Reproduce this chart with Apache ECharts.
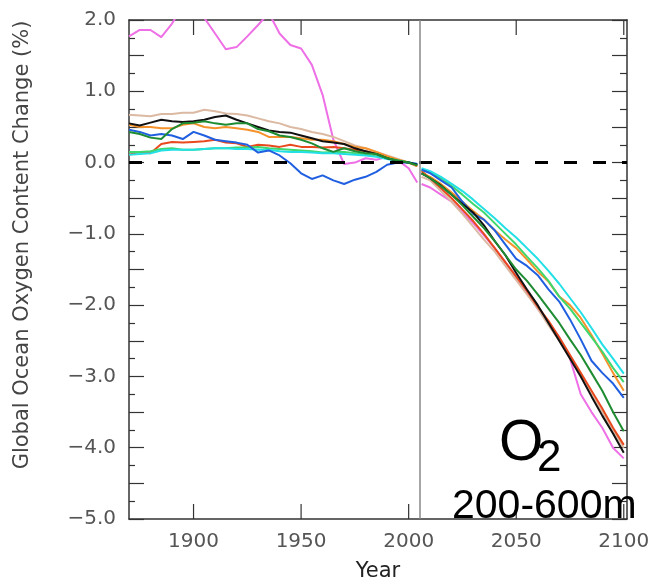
<!DOCTYPE html>
<html>
<head>
<meta charset="utf-8">
<script src="https://cdn.jsdelivr.net/npm/echarts@6/dist/echarts.min.js"></script>
<style>
  html, body { margin: 0; padding: 0; background: #fff; }
  #chart { width: 657px; height: 587px; }
</style>
</head>
<body>
<div id="chart"></div>
<script>
// years of the historical runs and of the projections
const histYears = [1870, 1875, 1880, 1885, 1890, 1895, 1900, 1905, 1910, 1915, 1920, 1925, 1930, 1935,
  1940, 1945, 1950, 1955, 1960, 1965, 1970, 1975, 1980, 1985, 1990, 1995, 2000, 2004]
const futYears = [2006, 2010, 2015, 2020, 2025, 2030, 2035, 2040, 2045, 2050, 2055, 2060, 2065, 2070,
  2075, 2080, 2085, 2090, 2095, 2100]

const yTicks = [2, 1, 0, -1, -2, -3, -4, -5]
const xTicks = [1900, 1950, 2000, 2050, 2100]

// oxygen content change (%), one pair of arrays per model
const pinkHist = [1.77, 1.86, 1.86, 1.76, 1.95, 2.2, 2.35, 2.03, 1.81, 1.59, 1.62, 1.77, 1.93, 2.1,
  1.81, 1.65, 1.6, 1.37, 0.95, 0.32, -0.02, 0.0, 0.06, 0.04, 0.08, 0.03, -0.08, -0.28]
const pinkFut = [-0.3, -0.35, -0.45, -0.55, -0.7, -0.85, -1.02, -1.2, -1.4, -1.6, -1.82, -2.05, -2.25, -2.45,
  -2.75, -3.25, -3.5, -3.72, -4.0, -4.15]

const tanHist = [0.67, 0.66, 0.65, 0.68, 0.68, 0.7, 0.7, 0.74, 0.72, 0.69, 0.68, 0.66, 0.62, 0.58,
  0.55, 0.5, 0.47, 0.43, 0.4, 0.36, 0.3, 0.24, 0.2, 0.15, 0.1, 0.05, 0.0, -0.05]
const tanFut = [-0.2, -0.25, -0.4, -0.55, -0.72, -0.9, -1.08, -1.25, -1.45, -1.65, -1.85, -2.05, -2.28, -2.5,
  -2.75, -3.0, -3.25, -3.5, -3.75, -4.0]

const blackHist = [0.55, 0.52, 0.56, 0.6, 0.58, 0.57, 0.58, 0.6, 0.64, 0.66, 0.6, 0.55, 0.5, 0.45,
  0.43, 0.42, 0.38, 0.34, 0.3, 0.28, 0.26, 0.2, 0.16, 0.12, 0.06, 0.02, 0.0, -0.03]
const blackFut = [-0.15, -0.22, -0.32, -0.45, -0.58, -0.7, -0.88, -1.1, -1.3, -1.55, -1.78, -2.0, -2.25, -2.5,
  -2.75, -3.0, -3.28, -3.55, -3.8, -4.07]

const orangeHist = [0.53, 0.5, 0.5, 0.48, 0.48, 0.53, 0.55, 0.5, 0.48, 0.5, 0.48, 0.46, 0.43, 0.36,
  0.36, 0.36, 0.34, 0.32, 0.32, 0.3, 0.26, 0.22, 0.2, 0.15, 0.09, 0.04, 0.0, -0.05]
const orangeFut = [-0.15, -0.2, -0.3, -0.42, -0.55, -0.68, -0.8, -0.95, -1.08, -1.2, -1.36, -1.53, -1.67, -1.88,
  -2.0, -2.18, -2.42, -2.68, -2.95, -3.2]

const greenHist = [0.43, 0.4, 0.35, 0.33, 0.47, 0.55, 0.56, 0.58, 0.55, 0.53, 0.55, 0.55, 0.47, 0.44,
  0.38, 0.36, 0.32, 0.27, 0.2, 0.15, 0.2, 0.16, 0.13, 0.12, 0.06, 0.03, 0.0, -0.04]
const greenFut = [-0.15, -0.22, -0.33, -0.45, -0.6, -0.76, -0.92, -1.1, -1.3, -1.5, -1.66, -1.85, -2.05, -2.25,
  -2.48, -2.7, -2.95, -3.2, -3.5, -3.77]

const blueHist = [0.46, 0.43, 0.38, 0.4, 0.38, 0.33, 0.43, 0.38, 0.32, 0.3, 0.28, 0.25, 0.14, 0.17,
  0.1, -0.01, -0.15, -0.23, -0.18, -0.25, -0.3, -0.24, -0.2, -0.13, -0.03, 0.0, 0.0, -0.02]
const blueFut = [-0.1, -0.15, -0.25, -0.35, -0.55, -0.72, -0.8, -0.95, -1.15, -1.35, -1.45, -1.58, -1.78, -1.95,
  -2.2, -2.48, -2.78, -2.95, -3.1, -3.3]

const redHist = [0.11, 0.15, 0.13, 0.26, 0.29, 0.28, 0.29, 0.3, 0.32, 0.28, 0.27, 0.22, 0.25, 0.24,
  0.22, 0.25, 0.22, 0.22, 0.21, 0.22, 0.2, 0.18, 0.16, 0.12, 0.08, 0.03, 0.0, -0.05]
const redFut = [-0.12, -0.22, -0.36, -0.5, -0.66, -0.82, -1.0, -1.2, -1.4, -1.6, -1.8, -2.02, -2.22, -2.45,
  -2.7, -2.95, -3.2, -3.45, -3.72, -3.96]

const limeHist = [0.15, 0.15, 0.16, 0.19, 0.2, 0.18, 0.18, 0.19, 0.2, 0.2, 0.21, 0.21, 0.22, 0.2,
  0.19, 0.18, 0.17, 0.16, 0.14, 0.15, 0.15, 0.13, 0.11, 0.09, 0.06, 0.03, 0.0, -0.03]
const limeFut = [-0.1, -0.14, -0.22, -0.33, -0.45, -0.58, -0.7, -0.85, -1.0, -1.15, -1.32, -1.48, -1.66, -1.88,
  -2.05, -2.25, -2.45, -2.65, -2.88, -3.08]

const cyanHist = [0.11, 0.12, 0.13, 0.17, 0.18, 0.18, 0.18, 0.19, 0.2, 0.2, 0.19, 0.19, 0.18, 0.18,
  0.16, 0.15, 0.15, 0.14, 0.13, 0.13, 0.12, 0.11, 0.1, 0.08, 0.05, 0.02, 0.0, -0.02]
const cyanFut = [-0.08, -0.12, -0.2, -0.3, -0.4, -0.52, -0.65, -0.78, -0.92, -1.05, -1.2, -1.35, -1.52, -1.7,
  -1.9, -2.1, -2.32, -2.55, -2.75, -2.96]

const models = [
  { hist: pinkHist, fut: pinkFut, color: '#ee6fe6' },
  { hist: tanHist, fut: tanFut, color: '#dcb9a2' },
  { hist: redHist, fut: redFut, color: '#e8491d' },
  { hist: orangeHist, fut: orangeFut, color: '#f5922c' },
  { hist: limeHist, fut: limeFut, color: '#3fd86c' },
  { hist: cyanHist, fut: cyanFut, color: '#22e0e6' },
  { hist: blueHist, fut: blueFut, color: '#1f5fe0' },
  { hist: blackHist, fut: blackFut, color: '#111111' },
  { hist: greenHist, fut: greenFut, color: '#1e8c32' }
]

const fmt = v => (v < 0 ? '\u2212' : '') + Math.abs(v).toFixed(1)

let myChart = echarts.init(document.getElementById('chart'))

const series = models.map(m => ({
  type: 'line',
  symbol: 'none',
  lineStyle: { width: 2, color: m.color },
  data: histYears.map((y, i) => [y, m.hist[i]])
    .concat([[2005, '-']])
    .concat(futYears.map((y, i) => [y, m.fut[i]]))
}))

// zero line and the 2005 marker
series.push({
  type: 'line',
  data: [],
  z: 5,
  markLine: {
    silent: true,
    symbol: 'none',
    label: { show: false },
    data: [
      { yAxis: 0, lineStyle: { color: '#000', width: 3, type: [13, 16] } },
      { xAxis: 2005, lineStyle: { color: '#888', width: 1.5, type: 'solid' } }
    ]
  }
})

const tickStyle = { color: '#333', width: 1.2 }
const lineStyle = { color: '#333', width: 1.5 }

myChart.setOption({
  animation: false,
  backgroundColor: '#fff',
  grid: { left: 129, right: 30, top: 20, bottom: 68 },
  xAxis: [{
    type: 'value',
    min: 1870,
    max: 2101.5,
    name: 'Year',
    nameLocation: 'middle',
    nameGap: 42,
    nameTextStyle: { fontFamily: 'DejaVu Sans', fontSize: 21, color: '#222' },
    splitLine: { show: false },
    axisLine: { onZero: false, lineStyle: lineStyle },
    axisTick: { show: false },
    axisLabel: { customValues: xTicks, margin: 13, fontFamily: 'DejaVu Sans', fontSize: 20, color: '#555',
      formatter: v => String(v) }
  }, {
    type: 'value',
    position: 'top',
    min: 1870,
    max: 2101.5,
    splitLine: { show: false },
    axisLine: { onZero: false, lineStyle: lineStyle },
    axisTick: { show: false },
    axisLabel: { show: false }
  }],
  yAxis: [{
    type: 'value',
    min: -5,
    max: 2,
    interval: 0.5,
    splitLine: { show: false },
    axisLine: { show: true, onZero: false, lineStyle: lineStyle },
    axisTick: { show: true, inside: true, length: 15, lineStyle: tickStyle },
    minorTick: { show: true, splitNumber: 2, length: 6, lineStyle: tickStyle },
    axisLabel: { margin: 13, fontFamily: 'DejaVu Sans', fontSize: 20, color: '#555',
      formatter: v => (yTicks.indexOf(v) >= 0 ? fmt(v) : '') }
  }, {
    type: 'value',
    position: 'right',
    min: -5,
    max: 2,
    interval: 0.5,
    splitLine: { show: false },
    axisLine: { show: true, onZero: false, lineStyle: lineStyle },
    axisTick: { show: true, inside: true, length: 15, lineStyle: tickStyle },
    minorTick: { show: true, splitNumber: 2, length: 7, lineStyle: tickStyle },
    axisLabel: { show: false }
  }],
  series: series
})

// year ticks on the bottom and top edge, placed through the chart's own scales
const ref = { xAxisIndex: 0, yAxisIndex: 0 }
const tickGraphics = []
xTicks.forEach(t => {
  const bottom = myChart.convertToPixel(ref, [t, -5])
  const top = myChart.convertToPixel(ref, [t, 2])
  tickGraphics.push({
    type: 'line', z: 6, silent: true,
    shape: { x1: bottom[0], y1: bottom[1], x2: bottom[0], y2: bottom[1] - 15 },
    style: { stroke: '#333', lineWidth: 1.2 }
  })
  tickGraphics.push({
    type: 'line', z: 6, silent: true,
    shape: { x1: top[0], y1: top[1], x2: top[0], y2: top[1] + 15 },
    style: { stroke: '#333', lineWidth: 1.2 }
  })
})

myChart.setOption({
  graphic: tickGraphics.concat([
    {
      type: 'text',
      x: 23,
      y: 245,
      rotation: Math.PI / 2,
      style: {
        text: 'Global Ocean Oxygen Content Change (%)',
        fontFamily: 'DejaVu Sans',
        fontSize: 21,
        fill: '#444',
        align: 'center',
        verticalAlign: 'middle'
      }
    },
    {
      type: 'text',
      x: 499,
      y: 444,
      z: 10,
      style: { text: 'O', fontFamily: 'Liberation Sans', fontSize: 57, fill: '#000', verticalAlign: 'middle' }
    },
    {
      type: 'text',
      x: 537,
      y: 459,
      z: 10,
      style: { text: '2', fontFamily: 'Liberation Sans', fontSize: 44, fill: '#000', verticalAlign: 'middle' }
    },
    {
      type: 'text',
      x: 452,
      y: 507,
      z: 10,
      style: { text: '200-600m', fontFamily: 'Liberation Sans', fontSize: 41, fill: '#000', verticalAlign: 'middle' }
    }
  ])
})
</script>
</body>
</html>
